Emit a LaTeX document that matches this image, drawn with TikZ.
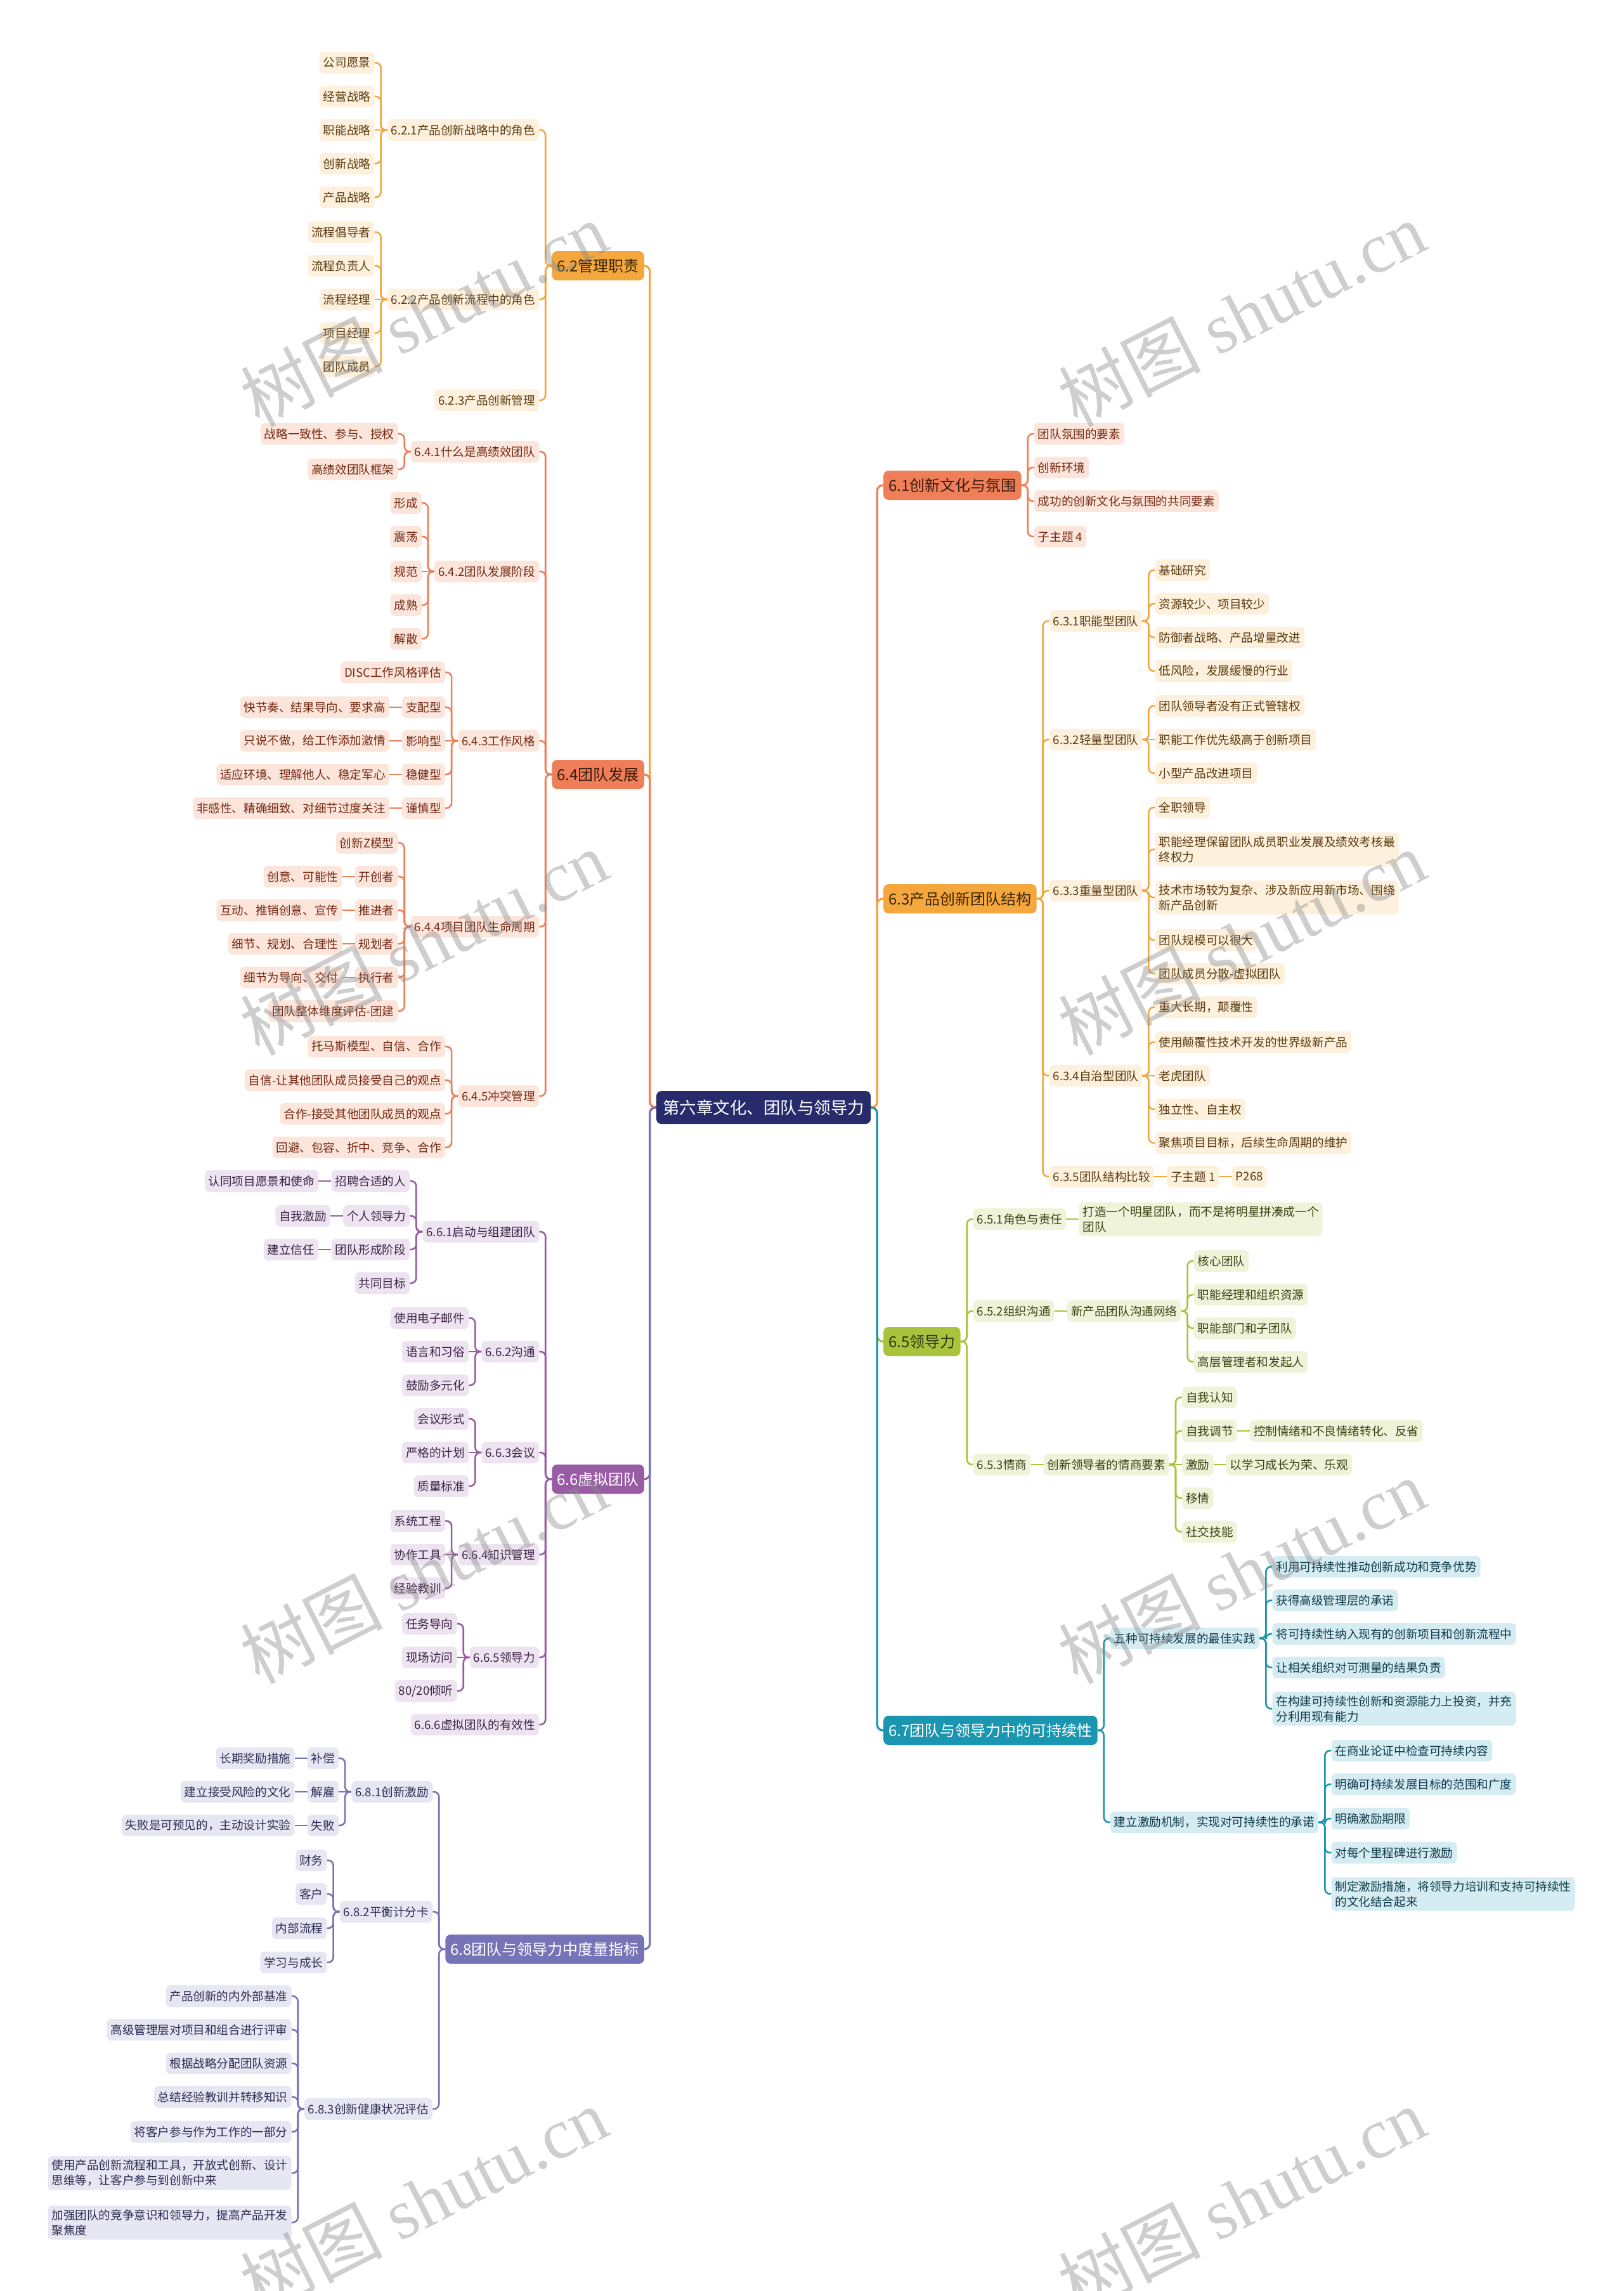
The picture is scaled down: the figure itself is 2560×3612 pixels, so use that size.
\documentclass[tikz,border=0pt]{standalone}
\usepackage{fontspec}
\setmainfont{Noto Sans CJK SC}
\newfontfamily\wmlat{Liberation Serif}
\usetikzlibrary{calc}
\pgfdeclarelayer{bg}
\pgfsetlayers{bg,main}
\definecolor{cNavy}{HTML}{272B6B}
\definecolor{cOr}{HTML}{F4A73C}
\definecolor{cOrL}{HTML}{FDF0DC}
\definecolor{cOrT}{HTML}{5A3A10}
\definecolor{cOrD}{HTML}{3E2606}
\definecolor{cCo}{HTML}{EF7F58}
\definecolor{cCoL}{HTML}{FCE5DB}
\definecolor{cCoT}{HTML}{742812}
\definecolor{cCoD}{HTML}{3C1A0E}
\definecolor{cPu}{HTML}{9A5BA5}
\definecolor{cPuL}{HTML}{EEE3F0}
\definecolor{cPuT}{HTML}{3A2444}
\definecolor{cLa}{HTML}{7674B7}
\definecolor{cLaL}{HTML}{E7E6F3}
\definecolor{cLaT}{HTML}{2C2C50}
\definecolor{cGr}{HTML}{A9C33D}
\definecolor{cGrL}{HTML}{EFF3DA}
\definecolor{cGrT}{HTML}{3A4212}
\definecolor{cGrD}{HTML}{2F3510}
\definecolor{cTe}{HTML}{1A96B0}
\definecolor{cTeL}{HTML}{D4ECF2}
\definecolor{cTeT}{HTML}{0F3A48}
\tikzset{
  lf/.style={rounded corners=7pt, inner xsep=6pt, inner ysep=0pt, minimum height=34pt, font=\fontsize{18.6}{24}\selectfont, align=left},
  two/.style={inner ysep=6pt},
  or/.style={lf, fill=cOrL, text=cOrT},
  co/.style={lf, fill=cCoL, text=cCoT},
  pu/.style={lf, fill=cPuL, text=cPuT},
  la/.style={lf, fill=cLaL, text=cLaT},
  gr/.style={lf, fill=cGrL, text=cGrT},
  te/.style={lf, fill=cTeL, text=cTeT},
  mn/.style={rounded corners=8pt, inner xsep=8pt, inner ysep=0pt, minimum height=46pt, font=\fontsize{24}{28}\selectfont},
  ctr/.style={rounded corners=8pt, fill=cNavy, text=white, minimum height=52pt, inner xsep=10pt, inner ysep=0pt, font=\fontsize{26.5}{30}\selectfont},
  ln/.style={line width=2.6pt, rounded corners=8pt},
  lnm/.style={line width=3.2pt, rounded corners=9pt},
  wm/.style={text=black!45, opacity=0.42, font=\fontsize{112}{120}\selectfont, rotate=27}
}
\newcommand\LN[5]{\path (#3.west) ++(-20,0) coordinate (tmpc); \node[#1,anchor=east] (#2) at (tmpc |- 0,#4) {#5};}
\newcommand\RN[5]{\path (#3.east) ++(20,0) coordinate (tmpc); \node[#1,anchor=west] (#2) at (tmpc |- 0,#4) {#5};}
\newcommand\LC[3]{\draw[ln,#1] (#2.west) -- ++(-10,0) |- (#3.east);}
\newcommand\LS[3]{\draw[ln,#1] (#2.west) -- (#3.east);}
\newcommand\RC[3]{\draw[ln,#1] (#2.east) -- ++(10,0) |- (#3.west);}
\newcommand\RS[3]{\draw[ln,#1] (#2.east) -- (#3.west);}
\begin{document}
\begin{tikzpicture}[x=1pt,y=-1pt]
\path[use as bounding box] (0,0) rectangle (2560,3612);

\node[ctr] (ct) at (1204,1746) {第六章文化、团队与领导力};

% ===== 6.2 =====
\node[mn, fill=cOr, text=cOrD, anchor=east] (n62) at (1016,419) {6.2管理职责};
\LN{or}{a1}{n62}{205}{6.2.1产品创新战略中的角色}
\LN{or}{a11}{a1}{99}{公司愿景}
\LN{or}{a12}{a1}{152}{经营战略}
\LN{or}{a13}{a1}{205}{职能战略}
\LN{or}{a14}{a1}{258}{创新战略}
\LN{or}{a15}{a1}{311}{产品战略}
\LN{or}{a2}{n62}{472}{6.2.2产品创新流程中的角色}
\LN{or}{a21}{a2}{366}{流程倡导者}
\LN{or}{a22}{a2}{419}{流程负责人}
\LN{or}{a23}{a2}{472}{流程经理}
\LN{or}{a24}{a2}{525}{项目经理}
\LN{or}{a25}{a2}{578}{团队成员}
\LN{or}{a3}{n62}{631}{6.2.3产品创新管理}

% ===== 6.4 =====
\node[mn, fill=cCo, text=cCoD, anchor=east] (n64) at (1016,1221) {6.4团队发展};
\LN{co}{b1}{n64}{712}{6.4.1什么是高绩效团队}
\LN{co}{b11}{b1}{684}{战略一致性、参与、授权}
\LN{co}{b12}{b1}{740}{高绩效团队框架}
\LN{co}{b2}{n64}{901}{6.4.2团队发展阶段}
\LN{co}{b21}{b2}{793}{形成}
\LN{co}{b22}{b2}{846}{震荡}
\LN{co}{b23}{b2}{901}{规范}
\LN{co}{b24}{b2}{954}{成熟}
\LN{co}{b25}{b2}{1007}{解散}
\LN{co}{b3}{n64}{1168}{6.4.3工作风格}
\LN{co}{b31}{b3}{1060}{DISC工作风格评估}
\LN{co}{b32}{b3}{1115}{支配型}
\LN{co}{b32d}{b32}{1115}{快节奏、结果导向、要求高}
\LN{co}{b33}{b3}{1168}{影响型}
\LN{co}{b33d}{b33}{1168}{只说不做，给工作添加激情}
\LN{co}{b34}{b3}{1221}{稳健型}
\LN{co}{b34d}{b34}{1221}{适应环境、理解他人、稳定军心}
\LN{co}{b35}{b3}{1274}{谨慎型}
\LN{co}{b35d}{b35}{1274}{非感性、精确细致、对细节过度关注}
\LN{co}{b4}{n64}{1461}{6.4.4项目团队生命周期}
\LN{co}{b41}{b4}{1329}{创新Z模型}
\LN{co}{b42}{b4}{1382}{开创者}
\LN{co}{b42d}{b42}{1382}{创意、可能性}
\LN{co}{b43}{b4}{1435}{推进者}
\LN{co}{b43d}{b43}{1435}{互动、推销创意、宣传}
\LN{co}{b44}{b4}{1488}{规划者}
\LN{co}{b44d}{b44}{1488}{细节、规划、合理性}
\LN{co}{b45}{b4}{1541}{执行者}
\LN{co}{b45d}{b45}{1541}{细节为导向、交付}
\LN{co}{b46}{b4}{1594}{团队整体维度评估-团建}
\LN{co}{b5}{n64}{1728}{6.4.5冲突管理}
\LN{co}{b51}{b5}{1650}{托马斯模型、自信、合作}
\LN{co}{b52}{b5}{1703}{自信-让其他团队成员接受自己的观点}
\LN{co}{b53}{b5}{1756}{合作-接受其他团队成员的观点}
\LN{co}{b54}{b5}{1809}{回避、包容、折中、竞争、合作}

% ===== 6.6 =====
\node[mn, fill=cPu, text=white, anchor=east] (n66) at (1016,2332) {6.6虚拟团队};
\LN{pu}{c1}{n66}{1942}{6.6.1启动与组建团队}
\LN{pu}{c11}{c1}{1862}{招聘合适的人}
\LN{pu}{c11d}{c11}{1862}{认同项目愿景和使命}
\LN{pu}{c12}{c1}{1917}{个人领导力}
\LN{pu}{c12d}{c12}{1917}{自我激励}
\LN{pu}{c13}{c1}{1970}{团队形成阶段}
\LN{pu}{c13d}{c13}{1970}{建立信任}
\LN{pu}{c14}{c1}{2023}{共同目标}
\LN{pu}{c2}{n66}{2131}{6.6.2沟通}
\LN{pu}{c21}{c2}{2078}{使用电子邮件}
\LN{pu}{c22}{c2}{2131}{语言和习俗}
\LN{pu}{c23}{c2}{2184}{鼓励多元化}
\LN{pu}{c3}{n66}{2290}{6.6.3会议}
\LN{pu}{c31}{c3}{2237}{会议形式}
\LN{pu}{c32}{c3}{2290}{严格的计划}
\LN{pu}{c33}{c3}{2343}{质量标准}
\LN{pu}{c4}{n66}{2451}{6.6.4知识管理}
\LN{pu}{c41}{c4}{2398}{系统工程}
\LN{pu}{c42}{c4}{2451}{协作工具}
\LN{pu}{c43}{c4}{2504}{经验教训}
\LN{pu}{c5}{n66}{2613}{6.6.5领导力}
\LN{pu}{c51}{c5}{2560}{任务导向}
\LN{pu}{c52}{c5}{2613}{现场访问}
\LN{pu}{c53}{c5}{2666}{80/20倾听}
\LN{pu}{c6}{n66}{2719}{6.6.6虚拟团队的有效性}

% ===== 6.8 =====
\node[mn, fill=cLa, text=white, anchor=east] (n68) at (1016,3073) {6.8团队与领导力中度量指标};
\LN{la}{d1}{n68}{2825}{6.8.1创新激励}
\LN{la}{d11}{d1}{2772}{补偿}
\LN{la}{d11d}{d11}{2772}{长期奖励措施}
\LN{la}{d12}{d1}{2825}{解雇}
\LN{la}{d12d}{d12}{2825}{建立接受风险的文化}
\LN{la}{d13}{d1}{2878}{失败}
\LN{la}{d13d}{d13}{2878}{失败是可预见的，主动设计实验}
\LN{la}{d2}{n68}{3014}{6.8.2平衡计分卡}
\LN{la}{d21}{d2}{2933}{财务}
\LN{la}{d22}{d2}{2986}{客户}
\LN{la}{d23}{d2}{3040}{内部流程}
\LN{la}{d24}{d2}{3094}{学习与成长}
\LN{la}{d3}{n68}{3325}{6.8.3创新健康状况评估}
\LN{la}{d31}{d3}{3147}{产品创新的内外部基准}
\LN{la}{d32}{d3}{3200}{高级管理层对项目和组合进行评审}
\LN{la}{d33}{d3}{3253}{根据战略分配团队资源}
\LN{la}{d34}{d3}{3306}{总结经验教训并转移知识}
\LN{la}{d35}{d3}{3361}{将客户参与作为工作的一部分}
\LN{la,two}{d36}{d3}{3426}{使用产品创新流程和工具，开放式创新、设计\\思维等，让客户参与到创新中来}
\LN{la,two}{d37}{d3}{3504}{加强团队的竞争意识和领导力，提高产品开发\\聚焦度}

% ===== 6.1 =====
\node[mn, fill=cCo, text=cCoD, anchor=west] (n61) at (1393,765) {6.1创新文化与氛围};
\RN{co}{e11}{n61}{684}{团队氛围的要素}
\RN{co}{e12}{n61}{737}{创新环境}
\RN{co}{e13}{n61}{790}{成功的创新文化与氛围的共同要素}
\RN{co}{e14}{n61}{846}{子主题 4}

% ===== 6.3 =====
\node[mn, fill=cOr, text=cOrD, anchor=west] (n63) at (1393,1417) {6.3产品创新团队结构};
\RN{or}{f1}{n63}{979}{6.3.1职能型团队}
\RN{or}{f11}{f1}{899}{基础研究}
\RN{or}{f12}{f1}{952}{资源较少、项目较少}
\RN{or}{f13}{f1}{1005}{防御者战略、产品增量改进}
\RN{or}{f14}{f1}{1058}{低风险，发展缓慢的行业}
\RN{or}{f2}{n63}{1166}{6.3.2轻量型团队}
\RN{or}{f21}{f2}{1113}{团队领导者没有正式管辖权}
\RN{or}{f22}{f2}{1166}{职能工作优先级高于创新项目}
\RN{or}{f23}{f2}{1219}{小型产品改进项目}
\RN{or}{f3}{n63}{1404}{6.3.3重量型团队}
\RN{or}{f31}{f3}{1273}{全职领导}
\RN{or,two}{f32}{f3}{1339}{职能经理保留团队成员职业发展及绩效考核最\\终权力}
\RN{or,two}{f33}{f3}{1415}{技术市场较为复杂、涉及新应用新市场、围绕\\新产品创新}
\RN{or}{f34}{f3}{1482}{团队规模可以很大}
\RN{or}{f35}{f3}{1535}{团队成员分散-虚拟团队}
\RN{or}{f4}{n63}{1696}{6.3.4自治型团队}
\RN{or}{f41}{f4}{1588}{重大长期，颠覆性}
\RN{or}{f42}{f4}{1643}{使用颠覆性技术开发的世界级新产品}
\RN{or}{f43}{f4}{1696}{老虎团队}
\RN{or}{f44}{f4}{1749}{独立性、自主权}
\RN{or}{f45}{f4}{1802}{聚焦项目目标，后续生命周期的维护}
\RN{or}{f5}{n63}{1855}{6.3.5团队结构比较}
\RN{or}{f51}{f5}{1855}{子主题 1}
\RN{or}{f52}{f51}{1855}{P268}

% ===== 6.5 =====
\node[mn, fill=cGr, text=cGrD, anchor=west] (n65) at (1393,2115) {6.5领导力};
\RN{gr}{g1}{n65}{1922}{6.5.1角色与责任}
\RN{gr,two}{g11}{g1}{1922}{打造一个明星团队，而不是将明星拼凑成一个\\团队}
\RN{gr}{g2}{n65}{2067}{6.5.2组织沟通}
\RN{gr}{g21}{g2}{2067}{新产品团队沟通网络}
\RN{gr}{g211}{g21}{1988}{核心团队}
\RN{gr}{g212}{g21}{2041}{职能经理和组织资源}
\RN{gr}{g213}{g21}{2094}{职能部门和子团队}
\RN{gr}{g214}{g21}{2147}{高层管理者和发起人}
\RN{gr}{g3}{n65}{2309}{6.5.3情商}
\RN{gr}{g31}{g3}{2309}{创新领导者的情商要素}
\RN{gr}{g311}{g31}{2203}{自我认知}
\RN{gr}{g312}{g31}{2256}{自我调节}
\RN{gr}{g312d}{g312}{2256}{控制情绪和不良情绪转化、反省}
\RN{gr}{g313}{g31}{2309}{激励}
\RN{gr}{g313d}{g313}{2309}{以学习成长为荣、乐观}
\RN{gr}{g314}{g31}{2362}{移情}
\RN{gr}{g315}{g31}{2415}{社交技能}

% ===== 6.7 =====
\node[mn, fill=cTe, text=white, anchor=west] (n67) at (1393,2728) {6.7团队与领导力中的可持续性};
\RN{te}{h1}{n67}{2583}{五种可持续发展的最佳实践}
\RN{te}{h11}{h1}{2470}{利用可持续性推动创新成功和竞争优势}
\RN{te}{h12}{h1}{2523}{获得高级管理层的承诺}
\RN{te}{h13}{h1}{2576}{将可持续性纳入现有的创新项目和创新流程中}
\RN{te}{h14}{h1}{2629}{让相关组织对可测量的结果负责}
\RN{te,two}{h15}{h1}{2694}{在构建可持续性创新和资源能力上投资，并充\\分利用现有能力}
\RN{te}{h2}{n67}{2873}{建立激励机制，实现对可持续性的承诺}
\RN{te}{h21}{h2}{2760}{在商业论证中检查可持续内容}
\RN{te}{h22}{h2}{2813}{明确可持续发展目标的范围和广度}
\RN{te}{h23}{h2}{2867}{明确激励期限}
\RN{te}{h24}{h2}{2921}{对每个里程碑进行激励}
\RN{te,two}{h25}{h2}{2986}{制定激励措施，将领导力培训和支持可持续性\\的文化结合起来}

% ===== connectors =====
\begin{pgfonlayer}{bg}
\fill[white] (0,0) rectangle (2560,3612);
\draw[lnm,cOr] (ct.west) -- ++(-10,0) |- (n62.east);
\draw[lnm,cCo] (ct.west) -- ++(-10,0) |- (n64.east);
\draw[lnm,cPu] (ct.west) -- ++(-10,0) |- (n66.east);
\draw[lnm,cLa] (ct.west) -- ++(-10,0) |- (n68.east);
\draw[lnm,cCo] (ct.east) -- ++(10,0) |- (n61.west);
\draw[lnm,cOr] (ct.east) -- ++(10,0) |- (n63.west);
\draw[lnm,cGr] (ct.east) -- ++(10,0) |- (n65.west);
\draw[lnm,cTe] (ct.east) -- ++(10,0) |- (n67.west);
% 6.2
\LC{cOr}{n62}{a1}\LC{cOr}{n62}{a2}\LC{cOr}{n62}{a3}
\LC{cOr}{a1}{a11}\LC{cOr}{a1}{a12}\LS{cOr}{a1}{a13}\LC{cOr}{a1}{a14}\LC{cOr}{a1}{a15}
\LC{cOr}{a2}{a21}\LC{cOr}{a2}{a22}\LS{cOr}{a2}{a23}\LC{cOr}{a2}{a24}\LC{cOr}{a2}{a25}
% 6.4
\LC{cCo}{n64}{b1}\LC{cCo}{n64}{b2}\LC{cCo}{n64}{b3}\LC{cCo}{n64}{b4}\LC{cCo}{n64}{b5}
\LC{cCo}{b1}{b11}\LC{cCo}{b1}{b12}
\LC{cCo}{b2}{b21}\LC{cCo}{b2}{b22}\LS{cCo}{b2}{b23}\LC{cCo}{b2}{b24}\LC{cCo}{b2}{b25}
\LC{cCo}{b3}{b31}\LC{cCo}{b3}{b32}\LS{cCo}{b3}{b33}\LC{cCo}{b3}{b34}\LC{cCo}{b3}{b35}
\LS{cCo}{b32}{b32d}\LS{cCo}{b33}{b33d}\LS{cCo}{b34}{b34d}\LS{cCo}{b35}{b35d}
\LC{cCo}{b4}{b41}\LC{cCo}{b4}{b42}\LC{cCo}{b4}{b43}\LC{cCo}{b4}{b44}\LC{cCo}{b4}{b45}\LC{cCo}{b4}{b46}
\LS{cCo}{b42}{b42d}\LS{cCo}{b43}{b43d}\LS{cCo}{b44}{b44d}\LS{cCo}{b45}{b45d}
\LC{cCo}{b5}{b51}\LC{cCo}{b5}{b52}\LC{cCo}{b5}{b53}\LC{cCo}{b5}{b54}
% 6.6
\LC{cPu}{n66}{c1}\LC{cPu}{n66}{c2}\LC{cPu}{n66}{c3}\LC{cPu}{n66}{c4}\LC{cPu}{n66}{c5}\LC{cPu}{n66}{c6}
\LC{cPu}{c1}{c11}\LC{cPu}{c1}{c12}\LC{cPu}{c1}{c13}\LC{cPu}{c1}{c14}
\LS{cPu}{c11}{c11d}\LS{cPu}{c12}{c12d}\LS{cPu}{c13}{c13d}
\LC{cPu}{c2}{c21}\LS{cPu}{c2}{c22}\LC{cPu}{c2}{c23}
\LC{cPu}{c3}{c31}\LS{cPu}{c3}{c32}\LC{cPu}{c3}{c33}
\LC{cPu}{c4}{c41}\LS{cPu}{c4}{c42}\LC{cPu}{c4}{c43}
\LC{cPu}{c5}{c51}\LS{cPu}{c5}{c52}\LC{cPu}{c5}{c53}
% 6.8
\LC{cLa}{n68}{d1}\LC{cLa}{n68}{d2}\LC{cLa}{n68}{d3}
\LC{cLa}{d1}{d11}\LS{cLa}{d1}{d12}\LC{cLa}{d1}{d13}
\LS{cLa}{d11}{d11d}\LS{cLa}{d12}{d12d}\LS{cLa}{d13}{d13d}
\LC{cLa}{d2}{d21}\LC{cLa}{d2}{d22}\LC{cLa}{d2}{d23}\LC{cLa}{d2}{d24}
\LC{cLa}{d3}{d31}\LC{cLa}{d3}{d32}\LC{cLa}{d3}{d33}\LC{cLa}{d3}{d34}\LC{cLa}{d3}{d35}\LC{cLa}{d3}{d36}\LC{cLa}{d3}{d37}
% 6.1
\RC{cCo}{n61}{e11}\RC{cCo}{n61}{e12}\RC{cCo}{n61}{e13}\RC{cCo}{n61}{e14}
% 6.3
\RC{cOr}{n63}{f1}\RC{cOr}{n63}{f2}\RC{cOr}{n63}{f3}\RC{cOr}{n63}{f4}\RC{cOr}{n63}{f5}
\RC{cOr}{f1}{f11}\RC{cOr}{f1}{f12}\RC{cOr}{f1}{f13}\RC{cOr}{f1}{f14}
\RC{cOr}{f2}{f21}\RS{cOr}{f2}{f22}\RC{cOr}{f2}{f23}
\RC{cOr}{f3}{f31}\RC{cOr}{f3}{f32}\RC{cOr}{f3}{f33}\RC{cOr}{f3}{f34}\RC{cOr}{f3}{f35}
\RC{cOr}{f4}{f41}\RC{cOr}{f4}{f42}\RS{cOr}{f4}{f43}\RC{cOr}{f4}{f44}\RC{cOr}{f4}{f45}
\RS{cOr}{f5}{f51}\RS{cOr}{f51}{f52}
% 6.5
\RC{cGr}{n65}{g1}\RC{cGr}{n65}{g2}\RC{cGr}{n65}{g3}
\RS{cGr}{g1}{g11}\RS{cGr}{g2}{g21}\RS{cGr}{g3}{g31}
\RC{cGr}{g21}{g211}\RC{cGr}{g21}{g212}\RC{cGr}{g21}{g213}\RC{cGr}{g21}{g214}
\RC{cGr}{g31}{g311}\RC{cGr}{g31}{g312}\RS{cGr}{g31}{g313}\RC{cGr}{g31}{g314}\RC{cGr}{g31}{g315}
\RS{cGr}{g312}{g312d}\RS{cGr}{g313}{g313d}
% 6.7
\RC{cTe}{n67}{h1}\RC{cTe}{n67}{h2}
\RC{cTe}{h1}{h11}\RC{cTe}{h1}{h12}\RC{cTe}{h1}{h13}\RC{cTe}{h1}{h14}\RC{cTe}{h1}{h15}
\RC{cTe}{h2}{h21}\RC{cTe}{h2}{h22}\RC{cTe}{h2}{h23}\RC{cTe}{h2}{h24}\RC{cTe}{h2}{h25}
\end{pgfonlayer}

% ===== watermarks =====
\node[wm] (w1) at (668,495) {树图 {\wmlat shutu.cn}};
\node[wm] (w2) at (1958,495) {树图 {\wmlat shutu.cn}};
\node[wm] (w3) at (668,1486) {树图 {\wmlat shutu.cn}};
\node[wm] (w4) at (1958,1486) {树图 {\wmlat shutu.cn}};
\node[wm] (w5) at (668,2477) {树图 {\wmlat shutu.cn}};
\node[wm] (w6) at (1958,2477) {树图 {\wmlat shutu.cn}};
\node[wm] (w7) at (668,3468) {树图 {\wmlat shutu.cn}};
\node[wm] (w8) at (1958,3468) {树图 {\wmlat shutu.cn}};
\end{tikzpicture}
\end{document}
